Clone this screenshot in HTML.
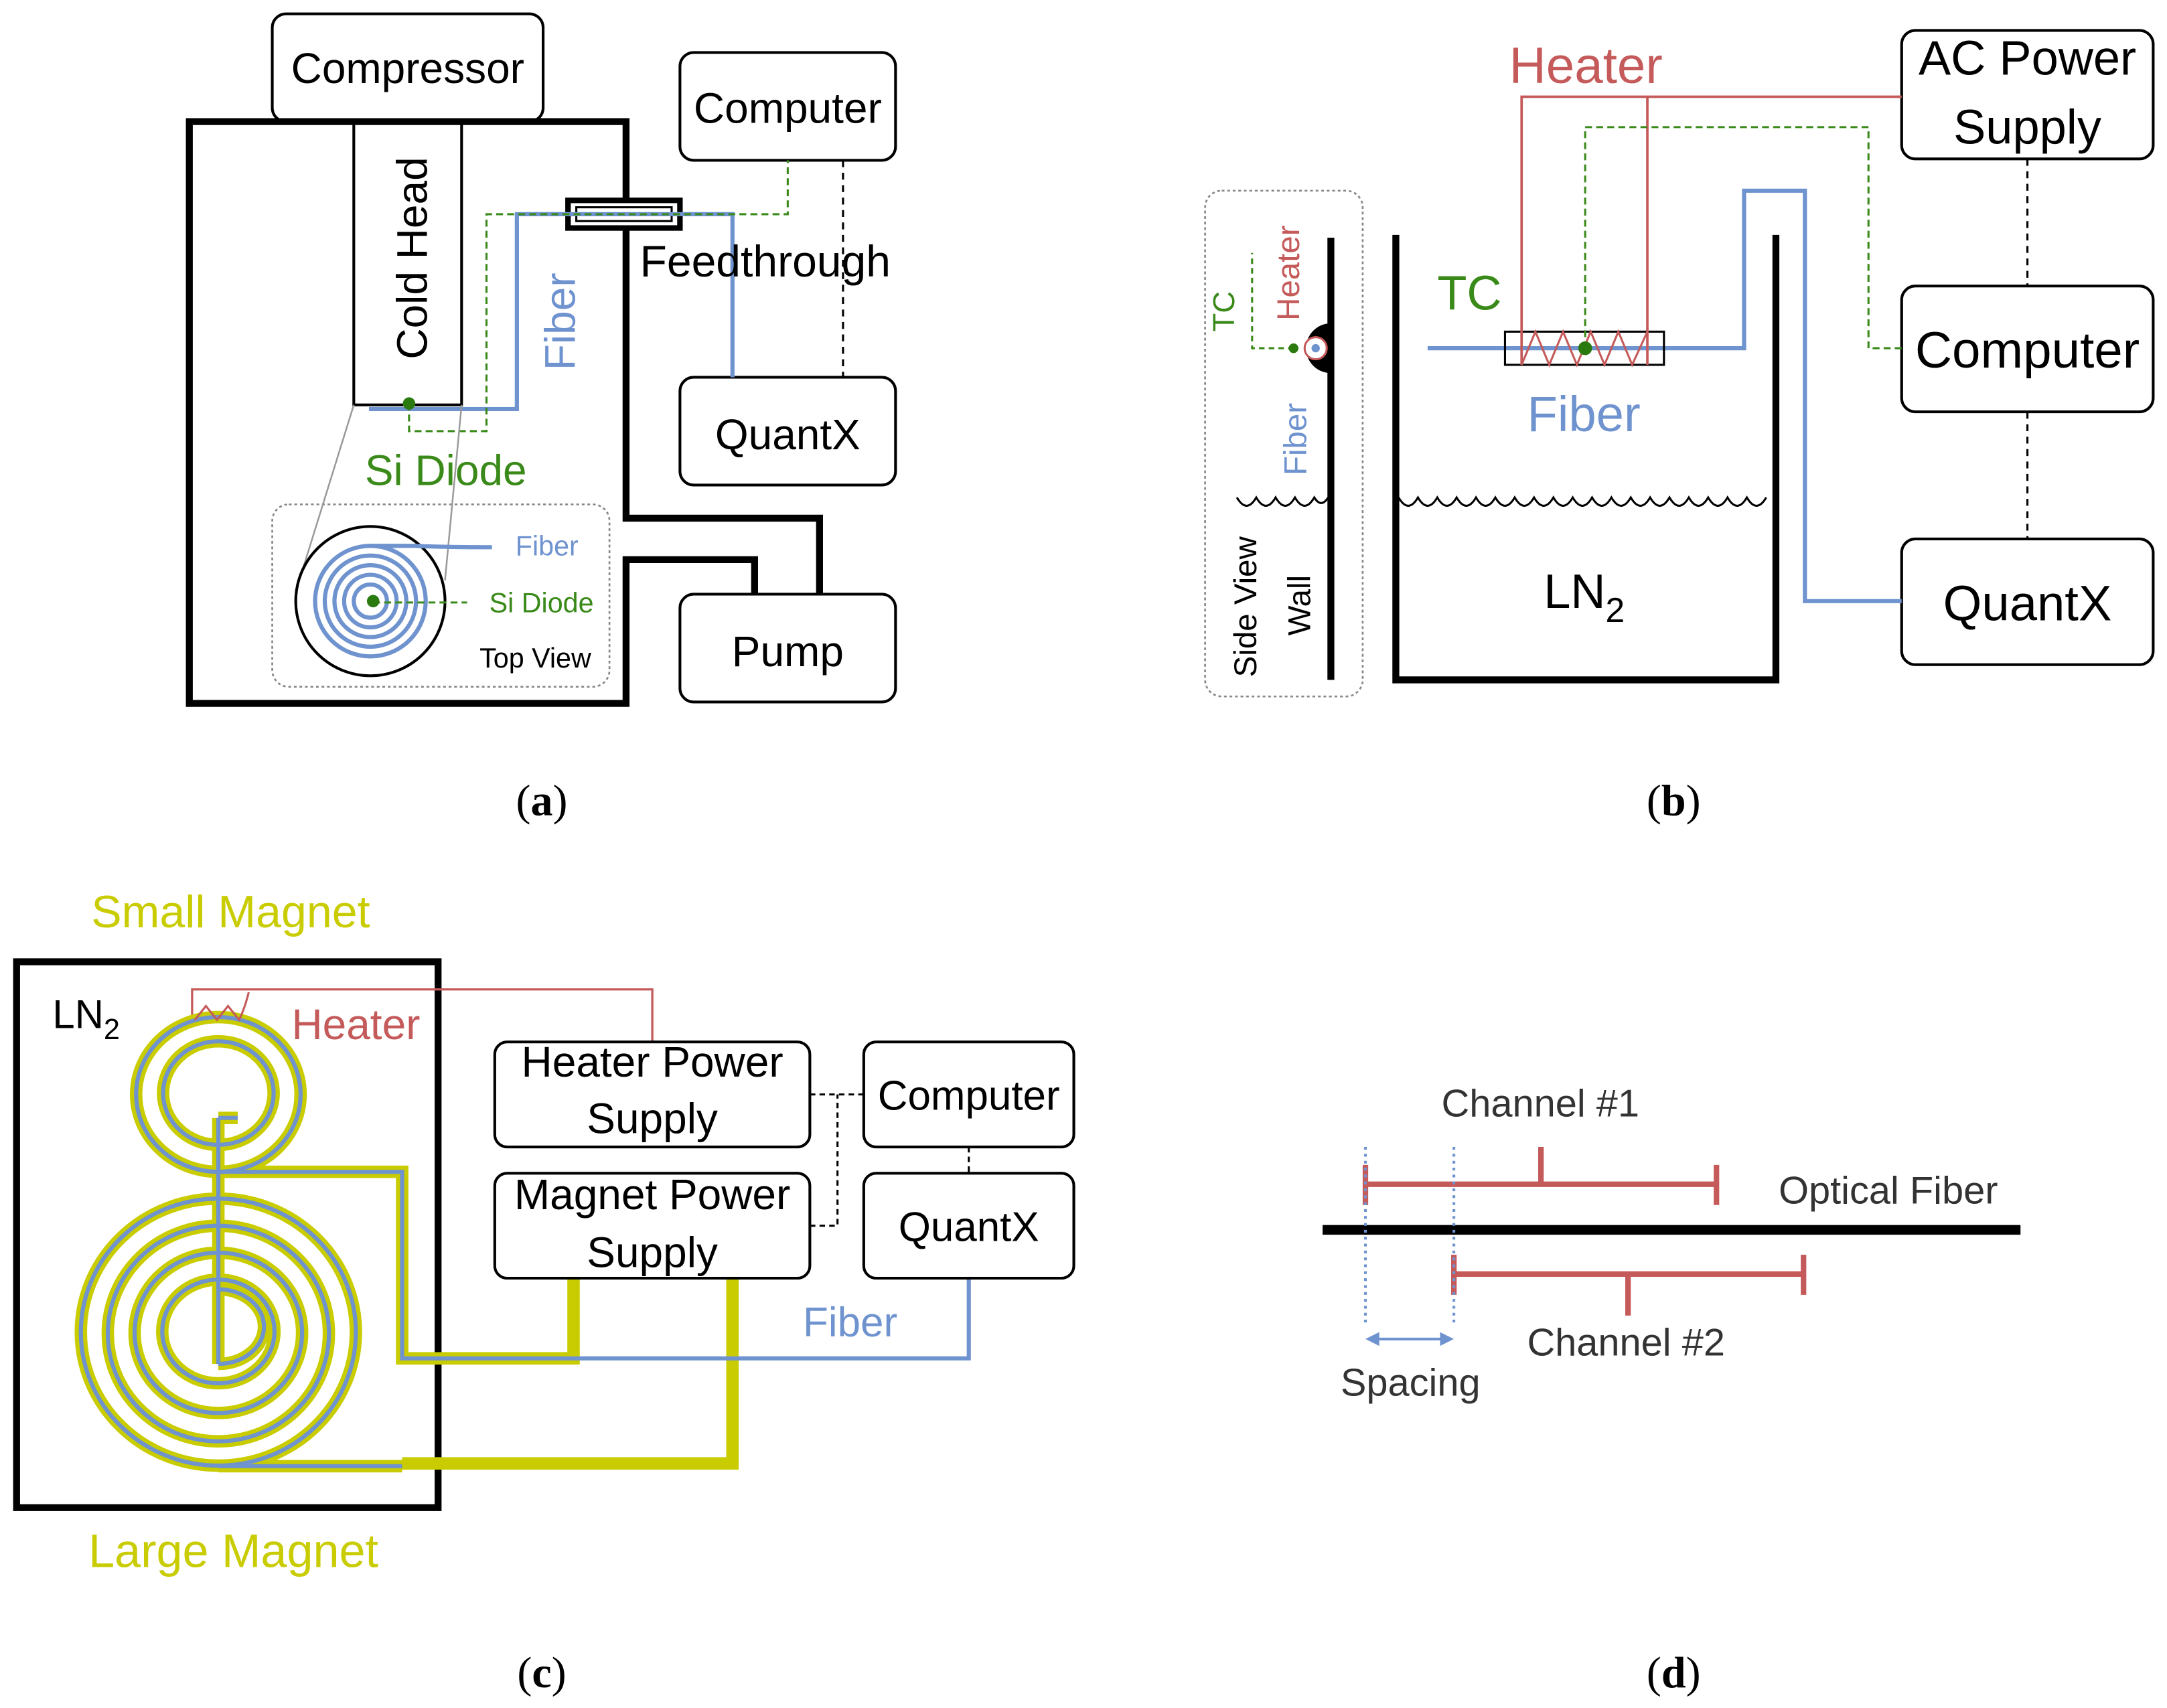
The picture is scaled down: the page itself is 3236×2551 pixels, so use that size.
<!DOCTYPE html>
<html><head><meta charset="utf-8"><style>
html,body{margin:0;padding:0;background:#fff;}
svg{display:block;}
text{font-family:"Liberation Sans","DejaVu Sans",sans-serif;}
.s{font-family:"Liberation Serif",serif;}
</style></head><body>
<svg width="3236" height="2551" viewBox="0 0 1568 1236" preserveAspectRatio="none" xmlns="http://www.w3.org/2000/svg">
<!-- ============ PANEL A ============ -->
<g fill="none" stroke="#000">
<rect x="197" y="10" width="196" height="78" rx="10" stroke-width="2"/>
<rect x="492" y="38" width="156" height="78" rx="10" stroke-width="2"/>
<rect x="492" y="273" width="156" height="78" rx="10" stroke-width="2"/>
<rect x="492" y="430" width="156" height="78" rx="10" stroke-width="2"/>
<path d="M453,145 V88 H137 V509 H453 V405 H546 V430 M453,165 V375 H593 V430" stroke-width="5"/>
<rect x="256" y="88" width="78" height="205" stroke-width="2"/>
<rect x="411" y="145" width="81" height="20" stroke-width="4"/>
<rect x="417" y="150" width="69" height="10" stroke-width="1.5"/>
<path d="M610,116 V273" stroke-width="1.5" stroke-dasharray="5,4"/>
</g>
<path d="M267,296 H374 V155 H530 V273" fill="none" stroke="#6f93cf" stroke-width="3"/>
<path d="M296,292 V312 H352 V155 H570 V116" fill="none" stroke="#3a8a1a" stroke-width="1.5" stroke-dasharray="5,3"/>
<circle cx="296" cy="292" r="4.5" fill="#2a7a10"/>
<text x="0" y="0" font-size="31" transform="translate(309,260) rotate(-90)">Cold Head</text>
<text x="0" y="0" font-size="31" fill="#6f93cf" transform="translate(416,268) rotate(-90)">Fiber</text>
<text x="463" y="200" font-size="32">Feedthrough</text>
<text x="264" y="351" font-size="31" fill="#3a8a1a">Si Diode</text>
<rect x="197" y="365" width="244" height="132" rx="12" fill="none" stroke="#888" stroke-width="1.3" stroke-dasharray="2,2"/>
<path d="M256,293 L215,425 M334,293 L322,420" stroke="#999" stroke-width="1.2" fill="none"/>
<circle cx="268" cy="435" r="54" fill="#fff" stroke="#000" stroke-width="2"/>
<g fill="none" stroke="#6f93cf" stroke-width="3">
<circle cx="268" cy="435" r="40"/><circle cx="268" cy="435" r="33"/><circle cx="268" cy="435" r="26"/><circle cx="268" cy="435" r="19"/><circle cx="268" cy="435" r="12"/>
<path d="M268,395 H300 Q322,396 356,396"/>
</g>
<path d="M270,436 H338" stroke="#3a8a1a" stroke-width="1.5" stroke-dasharray="5,3"/>
<circle cx="270" cy="435" r="4.5" fill="#2a7a10"/>
<text x="373" y="402" font-size="20" fill="#6f93cf">Fiber</text>
<text x="354" y="443" font-size="20" fill="#3a8a1a">Si Diode</text>
<text x="347" y="483" font-size="20">Top View</text>
<text x="295" y="60" font-size="31" text-anchor="middle">Compressor</text>
<text x="570" y="89" font-size="31" text-anchor="middle">Computer</text>
<text x="570" y="325" font-size="31" text-anchor="middle">QuantX</text>
<text x="570" y="482" font-size="31" text-anchor="middle">Pump</text>
<text class="s" x="392" y="590" font-size="32" text-anchor="middle">(<tspan font-weight="bold">a</tspan>)</text>

<!-- ============ PANEL B ============ -->
<g fill="none" stroke="#000">
<rect x="1376" y="22" width="182" height="93" rx="10" stroke-width="2"/>
<rect x="1376" y="207" width="182" height="91" rx="10" stroke-width="2"/>
<rect x="1376" y="390" width="182" height="91" rx="10" stroke-width="2"/>
<path d="M1467,115 V207 M1467,298 V390" stroke-width="1.5" stroke-dasharray="5,4"/>
<path d="M1010,170 V492 H1285 V170" stroke-width="5"/>
<path d="M1012,360 q7,12 14,0 q7,12 14,0 q7,12 14,0 q7,12 14,0 q7,12 14,0 q7,12 14,0 q7,12 14,0 q7,12 14,0 q7,12 14,0 q7,12 14,0 q7,12 14,0 q7,12 14,0 q7,12 14,0 q7,12 14,0 q7,12 14,0 q7,12 14,0 q7,12 14,0 q7,12 14,0 q7,12 14,0" stroke-width="1.5"/>
</g>
<path d="M1033,252 H1262 V138 H1306 V435 H1376" fill="none" stroke="#6f93cf" stroke-width="3"/>
<rect x="1089" y="240" width="115" height="24" fill="none" stroke="#000" stroke-width="1.5"/>
<path d="M1101,264 V70 H1376 M1192,264 V70" fill="none" stroke="#c55a5a" stroke-width="1.8"/>
<path d="M1101,264 L1111,240 L1121,264 L1131,240 L1141,264 L1151,240 L1161,264 L1171,240 L1181,264 L1192,240" fill="none" stroke="#c55a5a" stroke-width="1.5"/>
<path d="M1147,252 V92 H1352 V252 H1376" fill="none" stroke="#3a8a1a" stroke-width="1.5" stroke-dasharray="5,3"/>
<circle cx="1147" cy="252" r="5" fill="#2a7a10"/>
<text x="1092" y="60" font-size="37" fill="#c55a5a">Heater</text>
<text x="1040" y="224" font-size="35" fill="#3a8a1a">TC</text>
<text x="1105" y="312" font-size="36" fill="#6f93cf">Fiber</text>
<text x="1117" y="440" font-size="35">LN<tspan font-size="25" dy="10">2</tspan></text>
<text x="1467" y="54" font-size="35" text-anchor="middle">AC Power</text>
<text x="1467" y="104" font-size="35" text-anchor="middle">Supply</text>
<text x="1467" y="266" font-size="37" text-anchor="middle">Computer</text>
<text x="1467" y="449" font-size="36" text-anchor="middle">QuantX</text>
<rect x="872" y="138" width="114" height="366" rx="12" fill="none" stroke="#888" stroke-width="1.3" stroke-dasharray="2,2"/>
<path d="M963,172 V492" stroke="#000" stroke-width="5"/>
<path d="M963,234 A18,18 0 0 0 963,270 Z" fill="#000"/>
<circle cx="952" cy="252" r="8" fill="#fff" stroke="#c55a5a" stroke-width="1.5"/>
<circle cx="952" cy="252" r="3" fill="#6f93cf"/>
<path d="M895,360 q7,12 14,0 q7,12 14,0 q7,12 14,0 q7,12 14,0 q5,8 10,0" fill="none" stroke="#000" stroke-width="1.5"/>
<path d="M936,252 H906 V183" fill="none" stroke="#3a8a1a" stroke-width="1.5" stroke-dasharray="4,3"/>
<circle cx="936" cy="252" r="3.5" fill="#2a7a10"/>
<text transform="translate(893,240) rotate(-90)" font-size="22" fill="#3a8a1a">TC</text>
<text transform="translate(940,232) rotate(-90)" font-size="23" fill="#c55a5a">Heater</text>
<text transform="translate(945,344) rotate(-90)" font-size="23" fill="#6f93cf">Fiber</text>
<text transform="translate(909,490) rotate(-90)" font-size="23">Side View</text>
<text transform="translate(948,460) rotate(-90)" font-size="23">Wall</text>
<text class="s" x="1211" y="590" font-size="32" text-anchor="middle">(<tspan font-weight="bold">b</tspan>)</text>

<!-- ============ PANEL C ============ -->
<text x="66" y="671" font-size="33" fill="#c8cc00">Small Magnet</text>
<text x="64" y="1134" font-size="34" fill="#c8cc00">Large Magnet</text>
<rect x="12" y="696" width="305" height="395" fill="none" stroke="#000" stroke-width="5"/>
<text x="38" y="744" font-size="29">LN<tspan font-size="21" dy="8">2</tspan></text>
<text x="211" y="752" font-size="31" fill="#c55a5a">Heater</text>
<path d="M139,740 V716 H472 V754" fill="none" stroke="#c55a5a" stroke-width="1.6"/>
<g fill="none" stroke="#c8cc00" stroke-width="9">
<ellipse cx="158" cy="792" rx="59.5" ry="56"/>
<ellipse cx="158" cy="791" rx="40" ry="37.5"/>
<ellipse cx="158" cy="964" rx="99.5" ry="96.6"/>
<ellipse cx="158" cy="965" rx="80" ry="78"/>
<ellipse cx="158" cy="964.5" rx="60.6" ry="58"/>
<ellipse cx="158" cy="963.5" rx="40.6" ry="37.5"/>
<path d="M158,933 A33,27 0 0 1 158,987 M158,809 V987 M158,809 H172 M158,848 H291 V983 H415 V925 M158,1061 H291 M291,1059 H530 V925"/>
</g>
<g fill="none" stroke="#6f93cf" stroke-width="3">
<ellipse cx="158" cy="792" rx="59.5" ry="56"/>
<ellipse cx="158" cy="791" rx="40" ry="37.5"/>
<ellipse cx="158" cy="964" rx="99.5" ry="96.6"/>
<ellipse cx="158" cy="965" rx="80" ry="78"/>
<ellipse cx="158" cy="964.5" rx="60.6" ry="58"/>
<ellipse cx="158" cy="963.5" rx="40.6" ry="37.5"/>
<path d="M158,933 A33,27 0 0 1 158,987 M158,809 V987 M158,809 H172 M158,848 H291 V983 H701 V925 M158,1061 H291"/>
</g>
<path d="M141,738 L149,728 L157,738 L165,728 L173,738 Q177,730 180,718" fill="none" stroke="#c55a5a" stroke-width="1.5"/>
<g fill="none" stroke="#000" stroke-width="2">
<rect x="358" y="754" width="228" height="76" rx="9"/>
<rect x="358" y="849" width="228" height="76" rx="9"/>
<rect x="625" y="754" width="152" height="76" rx="9"/>
<rect x="625" y="849" width="152" height="76" rx="9"/>
</g>
<path d="M586,792 H625 M586,887 H606 V792 M701,830 V849" fill="none" stroke="#000" stroke-width="1.5" stroke-dasharray="4,3"/>
<text x="472" y="779" font-size="31" text-anchor="middle">Heater Power</text>
<text x="472" y="820" font-size="31" text-anchor="middle">Supply</text>
<text x="472" y="875" font-size="31" text-anchor="middle">Magnet Power</text>
<text x="472" y="917" font-size="31" text-anchor="middle">Supply</text>
<text x="701" y="803" font-size="30" text-anchor="middle">Computer</text>
<text x="701" y="898" font-size="30" text-anchor="middle">QuantX</text>
<text x="581" y="967" font-size="30" fill="#6f93cf">Fiber</text>
<text class="s" x="392" y="1221" font-size="32" text-anchor="middle">(<tspan font-weight="bold">c</tspan>)</text>

<!-- ============ PANEL D ============ -->
<path d="M957,890 H1462" stroke="#000" stroke-width="7"/>
<g stroke="#c55a5a" stroke-width="4" fill="none">
<path d="M988,857 H1242 M988,843 V872 M1242,843 V872 M1115,857 V830"/>
<path d="M1052,922 H1305 M1052,908 V937 M1305,908 V937 M1178,922 V952"/>
</g>
<path d="M988,830 V960 M1052,830 V960" stroke="#6f93cf" stroke-width="2" stroke-dasharray="2,3"/>
<path d="M996,969 H1044" stroke="#6f93cf" stroke-width="2"/>
<path d="M988,969 L998,964 L998,974 Z M1052,969 L1042,964 L1042,974 Z" fill="#6f93cf"/>
<text x="1043" y="808" font-size="28" fill="#333">Channel #1</text>
<text x="1287" y="871" font-size="28" fill="#333">Optical Fiber</text>
<text x="1105" y="981" font-size="28" fill="#333">Channel #2</text>
<text x="970" y="1010" font-size="28" fill="#333">Spacing</text>
<text class="s" x="1211" y="1221" font-size="32" text-anchor="middle">(<tspan font-weight="bold">d</tspan>)</text>
</svg>
</body></html>
